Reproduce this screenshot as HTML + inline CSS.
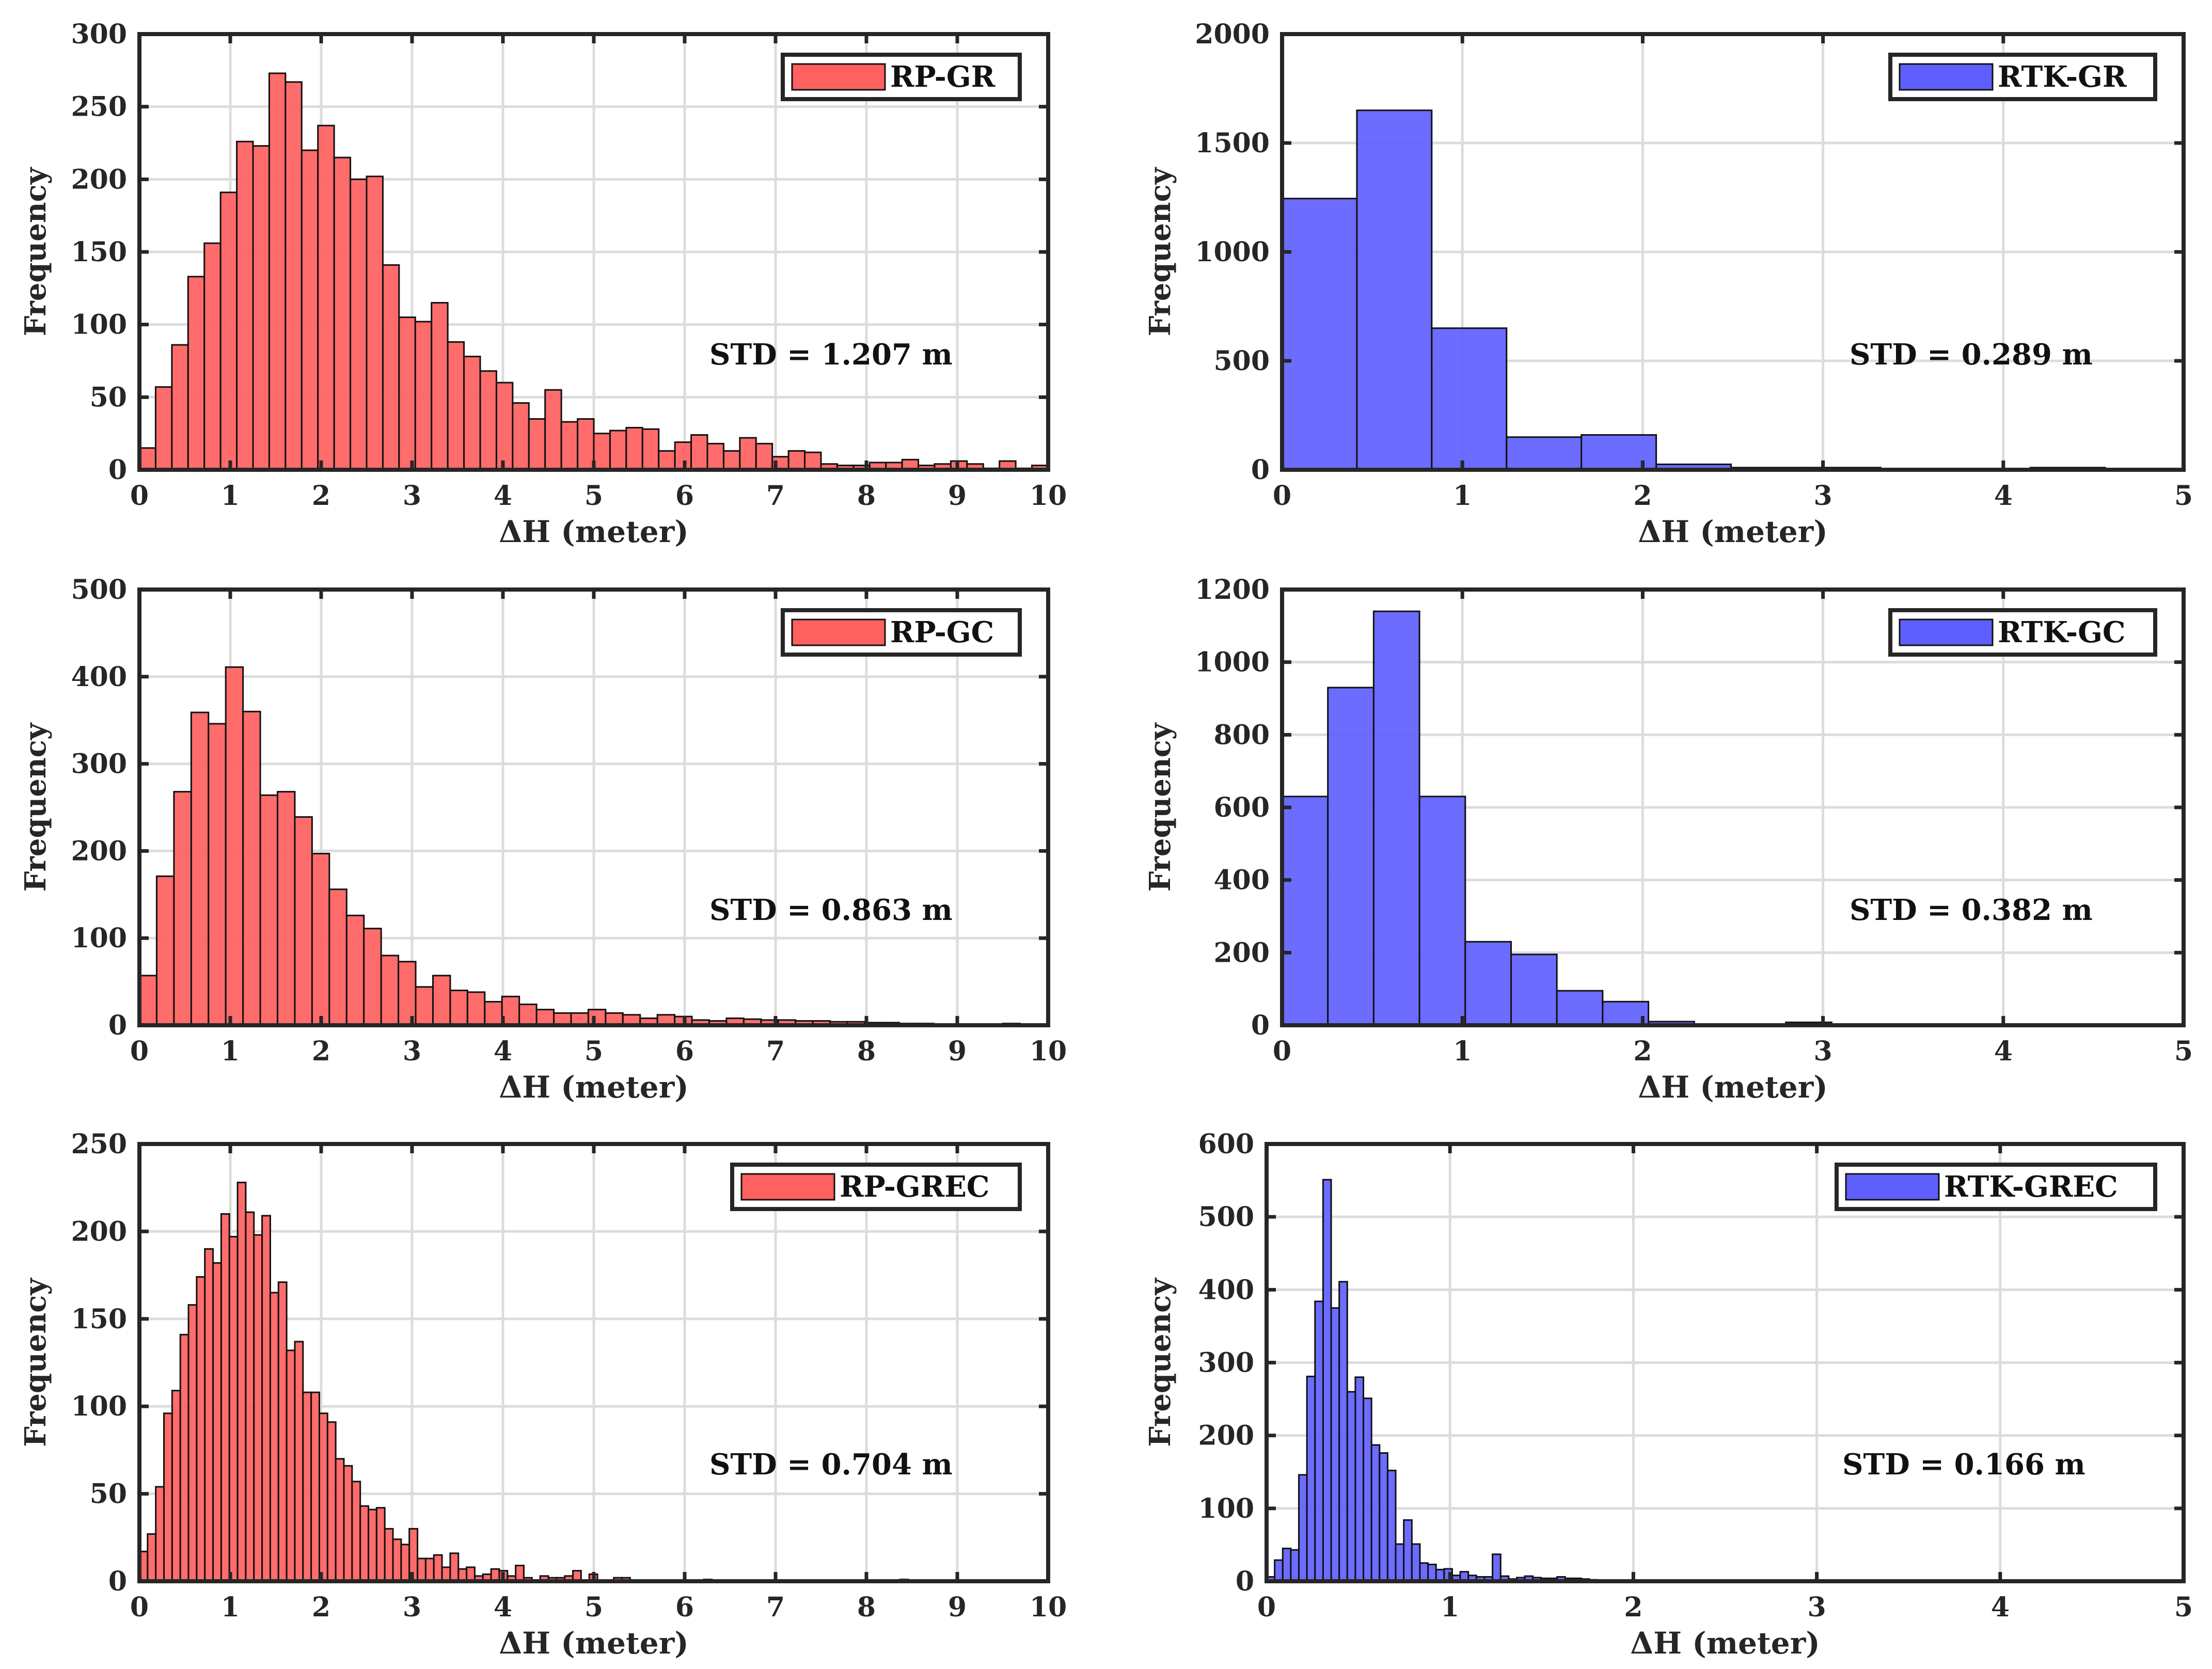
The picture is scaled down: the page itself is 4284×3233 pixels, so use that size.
<!DOCTYPE html>
<html><head><meta charset="utf-8"><style>
html,body{margin:0;padding:0;background:#fff;}
svg{display:block;font-family:"DejaVu Serif","Liberation Serif",serif;font-weight:bold;}
</style></head><body>
<svg id="fig" width="4284" height="3233" viewBox="0 0 4284 3233" xmlns="http://www.w3.org/2000/svg"></svg>
<script>
// ---- data ----
const rpGrCounts=[15,57,86,133,156,191,226,223,273,267,220,237,215,200,202,141,105,102,115,88,78,68,60,46,35,55,33,35,25,27,29,28,13,19,24,18,13,22,18,9,13,12,4,3,3,5,5,7,3,4,6,4,1,6,1,3];
const rpGrBin=10/56;
const rtkGrCounts=[1245,1650,650,150,160,25,10,10,5,3,10];
const rtkGrBin=0.415;
const rpGcCounts=[57,171,268,359,346,411,360,264,268,239,197,156,126,111,80,73,44,57,40,38,27,33,24,18,14,14,18,14,12,8,12,10,6,5,8,7,6,6,5,5,4,4,3,3,2,2,1,1,1,0,2,1];
const rpGcBin=0.19;
const rtkGcCounts=[630,930,1140,630,230,195,95,65,10,2,3,8,3,0,2,0,1,0,1];
const rtkGcBin=0.254;
const rpGrecCounts=[17,27,54,96,109,141,158,174,190,182,210,197,228,211,198,209,165,171,132,137,108,108,96,91,70,66,57,43,41,42,30,24,21,30,13,13,15,8,16,7,8,3,4,7,6,3,9,2,0,3,2,2,3,6,0,4,0,0,2,2,0,0,0,0,0,0,0,0,0,1,0,0,0,0,0,0,0,0,0,0,0,0,0,0,0,0,0,0,0,0,0,0,0,1,0];
const rpGrecBin=0.09;
const rtkGrecCounts=[6,29,45,43,146,281,384,551,375,411,260,280,251,187,176,152,51,84,51,25,23,16,17,8,13,8,6,6,37,7,3,5,7,5,4,4,6,4,4,3,2,0,0,0,1];
const rtkGrecBin=0.044;
const xTicks10=[0,1,2,3,4,5,6,7,8,9,10];
const xTicks5=[0,1,2,3,4,5];
const yTicksGr=[0,50,100,150,200,250,300];
const yTicksRtkGr=[0,500,1000,1500,2000];
const yTicksGc=[0,100,200,300,400,500];
const yTicksRtkGc=[0,200,400,600,800,1000,1200];
const yTicksGrec=[0,50,100,150,200,250];
const yTicksRtkGrec=[0,100,200,300,400,500,600];

const NS="http://www.w3.org/2000/svg";
const svg=document.getElementById('fig');
function mk(tag,attrs,parent){const e=document.createElementNS(NS,tag);for(const k in attrs)e.setAttribute(k,attrs[k]);(parent||svg).appendChild(e);return e;}

function panel(o){
  const g=mk('g',{});
  
  
  const L=o.x0,R=o.x1,T=o.y0,B=o.y1;
  const xs=v=>L+v/o.xmax*(R-L);
  const ys=v=>B-v/o.ymax*(B-T);
  o.xt.forEach(t=>{const l=mk('line',{x1:xs(t),x2:xs(t),y1:T,y2:B,stroke:'#dcdcdc','stroke-width':5},g);
    });
  o.yt.forEach(t=>{const l=mk('line',{x1:L,x2:R,y1:ys(t),y2:ys(t),stroke:'#dcdcdc','stroke-width':5},g);
    });
  o.counts.forEach((c,i)=>{ if(c<=0) return;
    const x=xs(i*o.bin),w=xs((i+1)*o.bin)-x;
    const r=mk('rect',{x:x,y:ys(c),width:w,height:B-ys(c),fill:o.color,'fill-opacity':0.92,stroke:'#111','stroke-width':3},g);
    
    
  });
  const f=mk('rect',{x:L,y:T,width:R-L,height:B-T,fill:'none',stroke:'#262626','stroke-width':8},g);
  
  o.xt.forEach(t=>{mk('line',{x1:xs(t),x2:xs(t),y1:B,y2:B-18,stroke:'#262626','stroke-width':7},g);mk('line',{x1:xs(t),x2:xs(t),y1:T,y2:T+18,stroke:'#262626','stroke-width':7},g);
    const tx=mk('text',{x:xs(t),y:B+68,'text-anchor':'middle','font-size':52,fill:'#262626'},g);tx.textContent=t;
    });
  o.yt.forEach(t=>{mk('line',{x1:L,x2:L+18,y1:ys(t),y2:ys(t),stroke:'#262626','stroke-width':7},g);mk('line',{x1:R,x2:R-18,y1:ys(t),y2:ys(t),stroke:'#262626','stroke-width':7},g);
    const tx=mk('text',{x:L-24,y:ys(t)+18,'text-anchor':'end','font-size':52,fill:'#262626'},g);tx.textContent=t;
    });
  const xl=mk('text',{x:(L+R)/2,y:B+140,'text-anchor':'middle','font-size':58,fill:'#262626'},g);xl.textContent='ΔH (meter)';
  
  const yx=o.ylabX,yy=(T+B)/2;
  const yl=mk('text',{x:yx,y:yy,'text-anchor':'middle','font-size':56,fill:'#262626',transform:`rotate(-90 ${yx} ${yy})`},g);yl.textContent='Frequency';
  
  const st=mk('text',{x:o.stdX,y:T+640,'font-size':56,fill:'#111'},g);st.textContent=o.std;
  
  const lg=mk('g',{},g);
  
  mk('rect',{x:o.legX,y:T+40,width:R-55-o.legX,height:86,fill:'#fff',stroke:'#262626','stroke-width':8},lg);
  mk('rect',{x:o.legX+18,y:T+58,width:180,height:50,fill:o.color,stroke:'#111','stroke-width':3},lg);
  const lt=mk('text',{x:o.legX+208,y:T+102,'font-size':56,fill:'#111'},lg);lt.textContent=o.label;
  
}
const RED='#ff6060',BLUE='#5f5fff';
const rows=[[66,910],[1142,1986],[2216,3063]];
panel({name:'rp-gr-histogram',x0:270,x1:2030,y0:rows[0][0],y1:rows[0][1],xmax:10,ymax:300,xt:xTicks10,yt:yTicksGr,counts:rpGrCounts,bin:rpGrBin,color:RED,label:'RP-GR',legX:1516,std:'STD = 1.207 m',stdX:1374,ylabX:88});
panel({name:'rtk-gr-histogram',x0:2483,x1:4229,y0:rows[0][0],y1:rows[0][1],xmax:5,ymax:2000,xt:xTicks5,yt:yTicksRtkGr,counts:rtkGrCounts,bin:rtkGrBin,color:BLUE,label:'RTK-GR',legX:3661,std:'STD = 0.289 m',stdX:3582,ylabX:2266});
panel({name:'rp-gc-histogram',x0:270,x1:2030,y0:rows[1][0],y1:rows[1][1],xmax:10,ymax:500,xt:xTicks10,yt:yTicksGc,counts:rpGcCounts,bin:rpGcBin,color:RED,label:'RP-GC',legX:1516,std:'STD = 0.863 m',stdX:1374,ylabX:88});
panel({name:'rtk-gc-histogram',x0:2483,x1:4229,y0:rows[1][0],y1:rows[1][1],xmax:5,ymax:1200,xt:xTicks5,yt:yTicksRtkGc,counts:rtkGcCounts,bin:rtkGcBin,color:BLUE,label:'RTK-GC',legX:3661,std:'STD = 0.382 m',stdX:3582,ylabX:2266});
panel({name:'rp-grec-histogram',x0:270,x1:2030,y0:rows[2][0],y1:rows[2][1],xmax:10,ymax:250,xt:xTicks10,yt:yTicksGrec,counts:rpGrecCounts,bin:rpGrecBin,color:RED,label:'RP-GREC',legX:1418,std:'STD = 0.704 m',stdX:1374,ylabX:88});
panel({name:'rtk-grec-histogram',x0:2453,x1:4229,y0:rows[2][0],y1:rows[2][1],xmax:5,ymax:600,xt:xTicks5,yt:yTicksRtkGrec,counts:rtkGrecCounts,bin:rtkGrecBin,color:BLUE,label:'RTK-GREC',legX:3557,std:'STD = 0.166 m',stdX:3568,ylabX:2266});
</script>
</body></html>
